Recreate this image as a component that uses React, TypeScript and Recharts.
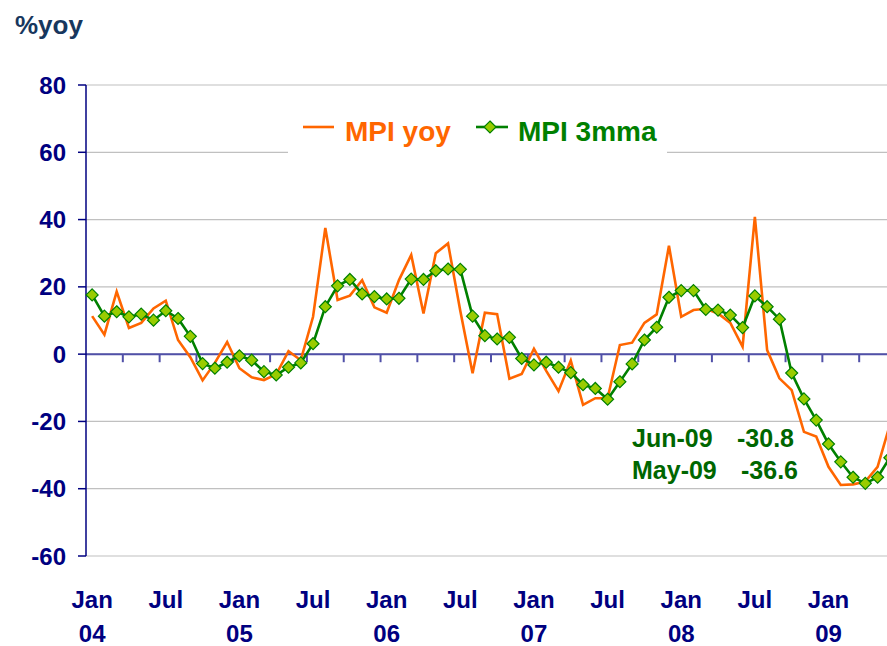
import { LineChart, Line, XAxis, YAxis, CartesianGrid, ReferenceLine } from 'recharts'

const months = [
  'Jan-04', 'Feb-04', 'Mar-04', 'Apr-04', 'May-04', 'Jun-04', 'Jul-04', 'Aug-04', 'Sep-04', 'Oct-04', 'Nov-04', 'Dec-04',
  'Jan-05', 'Feb-05', 'Mar-05', 'Apr-05', 'May-05', 'Jun-05', 'Jul-05', 'Aug-05', 'Sep-05', 'Oct-05', 'Nov-05', 'Dec-05',
  'Jan-06', 'Feb-06', 'Mar-06', 'Apr-06', 'May-06', 'Jun-06', 'Jul-06', 'Aug-06', 'Sep-06', 'Oct-06', 'Nov-06', 'Dec-06',
  'Jan-07', 'Feb-07', 'Mar-07', 'Apr-07', 'May-07', 'Jun-07', 'Jul-07', 'Aug-07', 'Sep-07', 'Oct-07', 'Nov-07', 'Dec-07',
  'Jan-08', 'Feb-08', 'Mar-08', 'Apr-08', 'May-08', 'Jun-08', 'Jul-08', 'Aug-08', 'Sep-08', 'Oct-08', 'Nov-08', 'Dec-08',
  'Jan-09', 'Feb-09', 'Mar-09', 'Apr-09', 'May-09', 'Jun-09',
]

// MPI yoy
const mpiYoy = [
  11.3, 5.8, 18.6, 7.8, 9.3, 13.6, 15.9, 4.2, -0.9, -7.8, -2.6, 3.6,
  -4.2, -6.9, -7.7, -6.0, 0.9, -1.8, 11.1, 37.5, 16.1, 17.4, 22.0, 13.9,
  12.3, 22.0, 29.5, 12.1, 30.0, 32.9, 12.8, -5.7, 12.3, 11.9, -7.3, -5.9,
  1.6, -5.0, -11.0, -1.9, -15.1, -13.1, -13.1, 2.7, 3.4, 9.3, 11.8, 32.2,
  11.1, 13.1, 13.5, 12.1, 9.3, 2.2, 40.8, 1.2, -7.2, -10.7, -23.1, -24.5,
  -33.5, -38.9, -38.7, -37.9, -33.5, -21.0,
]

// MPI 3mma
const mpi3mma = [
  17.6, 11.3, 12.6, 11.1, 11.9, 10.1, 12.9, 10.6, 5.3, -2.8, -4.2, -2.4,
  -0.5, -1.8, -5.2, -6.2, -3.9, -2.6, 3.1, 14.1, 20.3, 22.2, 17.9, 17.1,
  16.4, 16.6, 22.3, 22.2, 24.8, 25.3, 25.2, 11.3, 5.5, 4.5, 5.0, -1.3,
  -3.2, -2.4, -3.9, -5.5, -9.1, -10.2, -13.4, -8.2, -2.9, 4.2, 8.0, 16.9,
  18.9, 18.9, 13.3, 13.1, 11.6, 7.9, 17.3, 14.1, 10.4, -5.6, -13.3, -19.6,
  -26.7, -32.0, -36.6, -38.4, -36.6, -30.8,
]

const yTicks = [-60, -40, -20, 0, 20, 40, 60, 80]

const data = months.map((m, i) => ({ i, month: m, yoy: mpiYoy[i], mma: mpi3mma[i] }))

// labels every Jan / Jul
const xTicks = months.map((m, i) => (m.startsWith('Jan') || m.startsWith('Jul') ? i : -1)).filter((i) => i >= 0)
// small tick marks on the zero line, every quarter between categories
const zeroTicks = months.map((_, i) => i).filter((i) => i % 3 === 2).map((i) => i + 0.5)

const FONT = 'Arial, "Liberation Sans", sans-serif'
const NAVY = '#000080'
const ORANGE = '#ff6600'
const GREEN = '#008000'
const MARKER = '#99cc00'
const TEXT_GREEN = '#006600'

const Diamond = (props: any) => {
  const { cx, cy, index } = props
  if (cx == null || cy == null) return null
  const r = 6
  return (
    <polygon
      key={`d-${index}`}
      points={`${cx},${cy - r} ${cx + r},${cy} ${cx},${cy + r} ${cx - r},${cy}`}
      fill={MARKER}
      stroke={GREEN}
      strokeWidth={1.2}
    />
  )
}

const MonthTick = (props: any) => {
  const { x, y, payload } = props
  const m: string = months[payload.value] || ''
  const top = m.slice(0, 3)
  const bottom = top === 'Jan' ? m.slice(4) : ''
  return (
    <text x={x} y={y} textAnchor="middle" fill={NAVY} fontFamily={FONT} fontWeight="bold" fontSize={24}>
      <tspan x={x} dy={52}>{top}</tspan>
      {bottom && <tspan x={x} dy={34}>{bottom}</tspan>}
    </text>
  )
}

export default function App() {
  const last = months.length - 1
  return (
    <div style={{ position: 'absolute', left: 0, top: 0, width: 887, height: 646, overflow: 'hidden', background: '#fff' }}>
      <LineChart width={900} height={646} data={data} margin={{ top: 85, right: 4, bottom: 0, left: 0 }}>
        <CartesianGrid vertical={false} stroke="#c0c0c0" strokeWidth={1.2} />
        <XAxis
          dataKey="i"
          type="number"
          domain={[-0.5, months.length - 0.5]}
          ticks={xTicks}
          tick={<MonthTick />}
          axisLine={false}
          tickLine={false}
          tickSize={0}
          tickMargin={0}
          height={90}
          interval={0}
        />
        <YAxis
          domain={[-60, 80]}
          ticks={yTicks}
          width={86}
          axisLine={{ stroke: NAVY, strokeWidth: 1.5 }}
          tickLine={{ stroke: NAVY, strokeWidth: 1.5 }}
          tickSize={8}
          tickMargin={12}
          interval={0}
          tick={{ fill: NAVY, fontSize: 24, fontWeight: 'bold', fontFamily: FONT }}
        />
        <ReferenceLine y={0} stroke="#5050a8" strokeWidth={2} />
        {zeroTicks.map((t) => (
          <ReferenceLine
            key={`zt-${t}`}
            segment={[{ x: t, y: 0 }, { x: t, y: -2.4 }]}
            stroke="#5050a8"
            strokeWidth={2}
          />
        ))}
        <Line
          type="linear"
          dataKey="yoy"
          stroke={ORANGE}
          strokeWidth={2.6}
          dot={false}
          isAnimationActive={false}
        />
        <Line
          type="linear"
          dataKey="mma"
          stroke={GREEN}
          strokeWidth={2.6}
          dot={<Diamond />}
          isAnimationActive={false}
        />
      </LineChart>

      <svg width={887} height={646} style={{ position: 'absolute', left: 0, top: 0, pointerEvents: 'none' }}>
        <text x={15} y={34} fill="#17375e" fontFamily={FONT} fontWeight="bold" fontSize={26}>%yoy</text>

        {/* legend */}
        <rect x={288} y={106} width={379} height={52} fill="#fff" />
        <line x1={303} y1={127} x2={334} y2={127} stroke={ORANGE} strokeWidth={2.6} />
        <text x={345} y={141} fill={ORANGE} fontFamily={FONT} fontWeight="bold" fontSize={28}>MPI yoy</text>
        <line x1={476} y1={127} x2={508} y2={127} stroke={GREEN} strokeWidth={2.6} />
        <polygon points="490,121 496,127 490,133 484,127" fill={MARKER} stroke={GREEN} strokeWidth={1.2} />
        <text x={518} y={141} fill={GREEN} fontFamily={FONT} fontWeight="bold" fontSize={28}>MPI 3mma</text>

        {/* latest values */}
        <text x={632} y={447} fill={TEXT_GREEN} fontFamily={FONT} fontWeight="bold" fontSize={25}>{months[last]}</text>
        <text x={737} y={447} fill={TEXT_GREEN} fontFamily={FONT} fontWeight="bold" fontSize={25}>{mpi3mma[last].toFixed(1)}</text>
        <text x={632} y={479} fill={TEXT_GREEN} fontFamily={FONT} fontWeight="bold" fontSize={25}>{months[last - 1]}</text>
        <text x={741} y={479} fill={TEXT_GREEN} fontFamily={FONT} fontWeight="bold" fontSize={25}>{mpi3mma[last - 1].toFixed(1)}</text>
      </svg>
    </div>
  )
}
